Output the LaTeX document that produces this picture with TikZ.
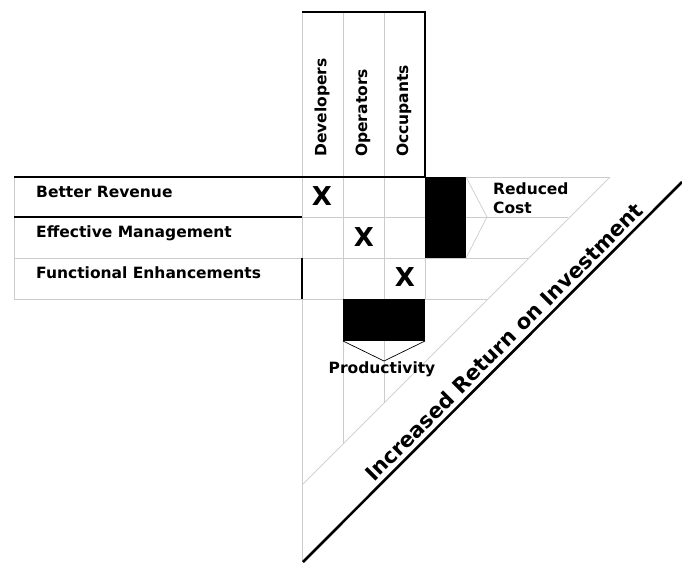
\documentclass[tikz,border=0pt]{standalone}
\usepackage{fontspec}
\setmainfont{DejaVu Sans}
\usetikzlibrary{positioning}
\tikzstyle{gridline} = [draw=black!20, line width=0.7pt]
\tikzstyle{frame}    = [draw=black, line width=1.1pt]
\tikzstyle{roi}      = [draw=black, line width=2.6pt]
\tikzstyle{block}    = [fill=black]
\tikzstyle{goal}     = [font=\bfseries\fontsize{15.5}{17}\selectfont, inner sep=0pt]
\tikzstyle{who}      = [goal, rotate=90, anchor=west]
\tikzstyle{hit}      = [font=\bfseries\fontsize{26}{26}\selectfont, inner sep=0pt]
\tikzstyle{gain}     = [font=\bfseries\fontsize{15.5}{19}\selectfont, inner sep=0pt, align=left]

\begin{document}
\begin{tikzpicture}[x=1pt, y=-1pt]
	\useasboundingbox (0,0) rectangle (682,562);
	% light grid
	\draw[gridline] (14,177) -- (14,299);
	\draw[gridline] (302,12) -- (302,562);
	\draw[gridline] (343,12) -- (343,444);
	\draw[gridline] (384,12) -- (384,403);
	\draw[gridline] (425,258) -- (425,299);
	\draw[gridline] (425,177) -- (610,177);
	\draw[gridline] (302,217) -- (568,217);
	\draw[gridline] (14,258) -- (528,258);
	\draw[gridline] (14,299) -- (488,299);
	\draw[gridline] (302,485) -- (610,177);
	% dark rules
	\draw[frame] (302,12) -- (425,12) -- (425,177) -- (14,177);
	\draw[frame] (14,217) -- (302,217);
	\draw[frame] (302,258) -- (302,299);
	% cost and productivity blocks
	\fill[block] (425,177) rectangle (466,258);
	\fill[block] (343,299) rectangle (425,341);
	\draw[gridline] (466,177) -- (487,217) -- (466,258);
	\draw[draw=black, line width=0.7pt] (343,341) -- (384,361) -- (425,341);

	\node[who] (developers) at (322,157) {Developers};
	\node[who] (operators) at (363,157) {Operators};
	\node[who] (occupants) at (404,157) {Occupants};

	\node[goal, anchor=base west] (revenue) at (36,197) {Better Revenue};
	\node[goal, below=40.5pt of revenue.base west, anchor=base west] (management) {Effective Management};
	\node[goal, below=40.5pt of management.base west, anchor=base west] (enhance) {Functional Enhancements};

	\node[hit] (devX) at (322,196) {X};
	\node[hit] (opX) at (364,237) {X};
	\node[hit] (occX) at (405,277) {X};

	\node[gain, anchor=base west] (cost) at (493,213) {Reduced\\Cost};
	\node[goal, anchor=base] (productivity) at (382,373) {Productivity};

	\coordinate (roiA) at (303,562);
	\coordinate (roiB) at (682,182);
	\draw[roi] (roiA) -- (roiB)
		node[pos=0.555, sloped, above=4pt, font=\bfseries\fontsize{21}{21}\selectfont, inner sep=0pt] (return) {Increased Return on Investment};
\end{tikzpicture}
\end{document}
